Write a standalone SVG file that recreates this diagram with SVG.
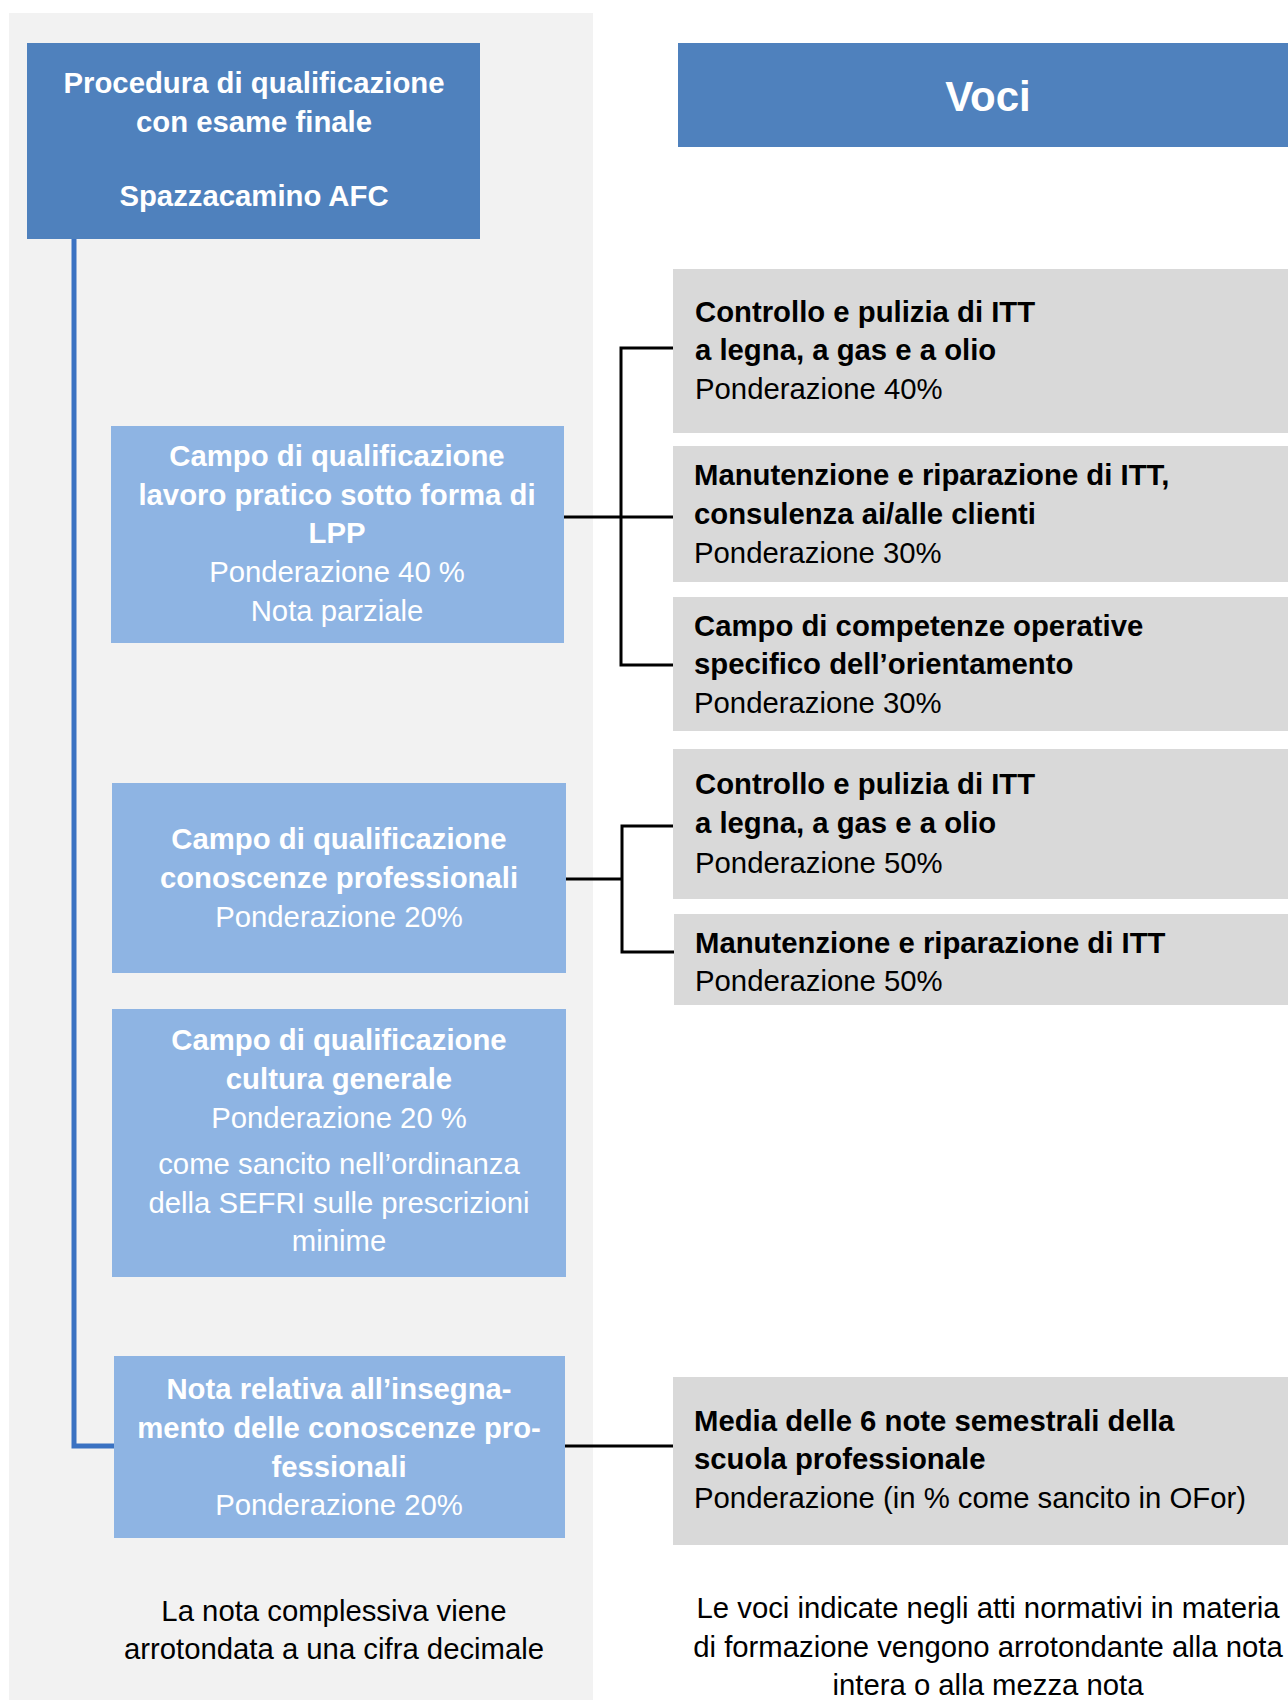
<svg xmlns="http://www.w3.org/2000/svg" width="1288" height="1700" viewBox="0 0 1288 1700">
<style>
text{font-family:"Liberation Sans",Arial,sans-serif;font-size:29.3px}
.b{font-weight:bold}
.w{fill:#ffffff}
.k{fill:#000000}
.c{text-anchor:middle}
.dark{fill:#4F81BD}
.light{fill:#8EB4E3}
.gray{fill:#D9D9D9}
.con{stroke:#000000;stroke-width:3;fill:none}
</style>
<rect x="9" y="13" width="584" height="1687" fill="#F2F2F2"/>
<g id="connectors">
<polyline points="74,239 74,1446 114,1446" fill="none" stroke="#3A72C2" stroke-width="5"/>
<line class="con" x1="564" y1="517" x2="673" y2="517"/>
<polyline class="con" points="673,348 621,348 621,665 673,665"/>
<line class="con" x1="566" y1="879" x2="622" y2="879"/>
<polyline class="con" points="673,826 622,826 622,952 674,952"/>
<line class="con" x1="565" y1="1446" x2="673" y2="1446"/>
</g>
<g id="root">
<rect class="dark" x="27" y="43" width="453" height="196"/>
<text class="b w c" x="254" y="93">Procedura di qualificazione</text>
<text class="b w c" x="254" y="132">con esame finale</text>
<text class="b w c" x="254" y="206">Spazzacamino AFC</text>
</g>
<g id="voci">
<rect class="dark" x="678" y="43" width="610" height="104"/>
<text class="b w c" x="988" y="111" style="font-size:42px">Voci</text>
</g>
<g id="lpp">
<rect class="light" x="111" y="426" width="453" height="217"/>
<text class="b w c" x="337" y="466">Campo di qualificazione</text>
<text class="b w c" x="337" y="505">lavoro pratico sotto forma di</text>
<text class="b w c" x="337" y="543">LPP</text>
<text class="w c" x="337" y="582">Ponderazione 40 %</text>
<text class="w c" x="337" y="621">Nota parziale</text>
</g>
<g id="conoscenze">
<rect class="light" x="112" y="783" width="454" height="190"/>
<text class="b w c" x="339" y="849">Campo di qualificazione</text>
<text class="b w c" x="339" y="888">conoscenze professionali</text>
<text class="w c" x="339" y="927">Ponderazione 20%</text>
</g>
<g id="cultura">
<rect class="light" x="112" y="1009" width="454" height="268"/>
<text class="b w c" x="339" y="1050">Campo di qualificazione</text>
<text class="b w c" x="339" y="1089">cultura generale</text>
<text class="w c" x="339" y="1128">Ponderazione 20 %</text>
<text class="w c" x="339" y="1174">come sancito nell’ordinanza</text>
<text class="w c" x="339" y="1213">della SEFRI sulle prescrizioni</text>
<text class="w c" x="339" y="1251">minime</text>
</g>
<g id="nota">
<rect class="light" x="114" y="1356" width="451" height="182"/>
<text class="b w c" x="339" y="1399">Nota relativa all’insegna-</text>
<text class="b w c" x="339" y="1438">mento delle conoscenze pro-</text>
<text class="b w c" x="339" y="1477">fessionali</text>
<text class="w c" x="339" y="1515">Ponderazione 20%</text>
</g>
<g id="voce1">
<rect class="gray" x="673" y="269" width="615" height="164"/>
<text class="b k" x="695" y="322">Controllo e pulizia di ITT</text>
<text class="b k" x="695" y="360">a legna, a gas e a olio</text>
<text class="k" x="695" y="399">Ponderazione 40%</text>
</g>
<g id="voce2">
<rect class="gray" x="673" y="446" width="615" height="136"/>
<text class="b k" x="694" y="485">Manutenzione e riparazione di ITT,</text>
<text class="b k" x="694" y="524">consulenza ai/alle clienti</text>
<text class="k" x="694" y="563">Ponderazione 30%</text>
</g>
<g id="voce3">
<rect class="gray" x="673" y="597" width="615" height="134"/>
<text class="b k" x="694" y="636">Campo di competenze operative</text>
<text class="b k" x="694" y="674">specifico dell’orientamento</text>
<text class="k" x="694" y="713">Ponderazione 30%</text>
</g>
<g id="voce4">
<rect class="gray" x="673" y="749" width="615" height="150"/>
<text class="b k" x="695" y="794">Controllo e pulizia di ITT</text>
<text class="b k" x="695" y="833">a legna, a gas e a olio</text>
<text class="k" x="695" y="873">Ponderazione 50%</text>
</g>
<g id="voce5">
<rect class="gray" x="674" y="914" width="614" height="91"/>
<text class="b k" x="695" y="953">Manutenzione e riparazione di ITT</text>
<text class="k" x="695" y="991">Ponderazione 50%</text>
</g>
<g id="voce6">
<rect class="gray" x="673" y="1377" width="615" height="168"/>
<text class="b k" x="694" y="1431">Media delle 6 note semestrali della</text>
<text class="b k" x="694" y="1469">scuola professionale</text>
<text class="k" x="694" y="1508">Ponderazione (in % come sancito in OFor)</text>
</g>
<g id="note-left">
<text class="k c" x="334" y="1621">La nota complessiva viene</text>
<text class="k c" x="334" y="1659">arrotondata a una cifra decimale</text>
</g>
<g id="note-right">
<text class="k c" x="988" y="1618">Le voci indicate negli atti normativi in materia</text>
<text class="k c" x="988" y="1657">di formazione vengono arrotondante alla nota</text>
<text class="k c" x="988" y="1695">intera o alla mezza nota</text>
</g>
</svg>
